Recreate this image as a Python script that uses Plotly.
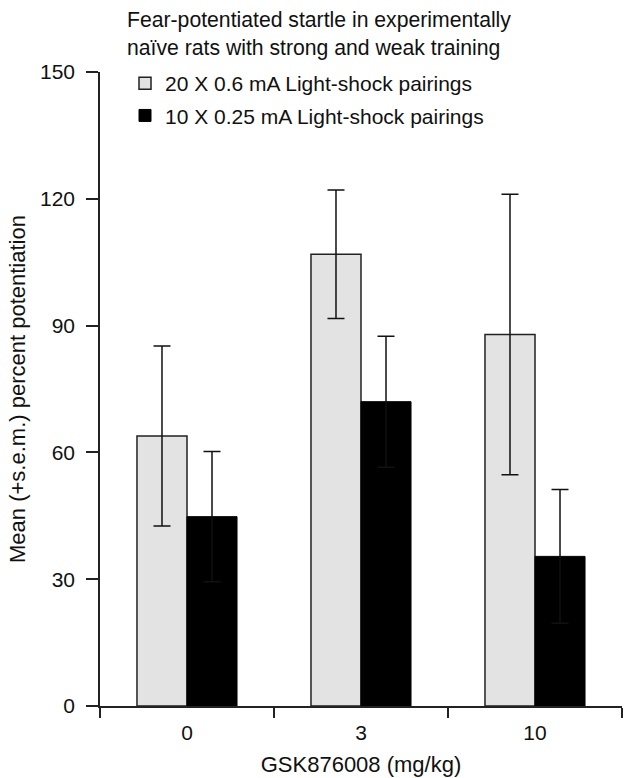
import plotly.graph_objects as go

doses = ["0", "3", "10"]
strong_mean = [63.9, 106.9, 87.9]
strong_sem = [21.3, 15.2, 33.2]
weak_mean = [44.8, 72.0, 35.4]
weak_sem = [15.4, 15.5, 15.8]
series_names = ["20 X 0.6 mA Light-shock pairings", "10 X 0.25 mA Light-shock pairings"]
y_ticks = [0, 30, 60, 90, 120, 150]

FONT = "Liberation Sans, Arial, Helvetica, sans-serif"
INK = "#111111"

fig = go.Figure()
fig.add_trace(go.Bar(
    x=doses, y=strong_mean, name=series_names[0], legendgroup="a",
    marker=dict(color="#e3e3e3", line=dict(color="#222222", width=1.5)),
    error_y=dict(type="data", array=strong_sem, visible=True, color=INK, thickness=1.5, width=8.5),
))
fig.add_trace(go.Bar(
    x=doses, y=weak_mean, name=series_names[1], legendgroup="b",
    marker=dict(color="#000000", line=dict(color="#000000", width=1)),
    error_y=dict(type="data", array=weak_sem, visible=True, color=INK, thickness=1.5, width=8.5),
))

fig.update_layout(
    width=632, height=778,
    margin=dict(l=100, r=10, t=72, b=72),
    paper_bgcolor="white", plot_bgcolor="white",
    font=dict(family=FONT, size=21, color=INK),
    barmode="group", bargap=0.425, bargroupgap=0,
    title=dict(
        text="Fear-potentiated startle in experimentally<br>naïve rats with strong and weak training",
        x=127/632, xref="container", xanchor="left",
        y=1 - 27/778, yref="container", yanchor="top",
        font=dict(size=21.2, color=INK),
        automargin=False,
    ),
    legend=dict(
        x=25/522, y=1 + 9/634, xanchor="left", yanchor="top",
        bgcolor="rgba(0,0,0,0)", traceorder="grouped", tracegroupgap=2,
        font=dict(size=21, color=INK),
    ),
    showlegend=True,
)
fig.update_xaxes(
    type="category", range=[-0.5, 2.5], tickson="boundaries",
    showline=True, linecolor="#222222", linewidth=1.5,
    ticks="outside", ticklen=10, tickwidth=1.5, tickcolor="#222222",
    ticklabelstandoff=7, automargin=False,
    tickfont=dict(size=21),
    showgrid=False, zeroline=False,
    title=dict(text="GSK876008 (mg/kg)", standoff=14, font=dict(size=22)),
)
fig.update_yaxes(
    range=[0, 150], tickvals=y_ticks, ticktext=[str(v) for v in y_ticks],
    showline=True, linecolor="#222222", linewidth=1.5,
    ticks="outside", ticklen=12, tickwidth=1.5, tickcolor="#222222",
    ticklabelstandoff=7, automargin=False,
    tickfont=dict(size=21),
    showgrid=False, zeroline=False,
    title=dict(text="Mean (+s.e.m.) percent potentiation", standoff=8, font=dict(size=22)),
)

fig.write_html("out.html", config={"displayModeBar": False},
               post_script="document.body.style.margin='0';")
